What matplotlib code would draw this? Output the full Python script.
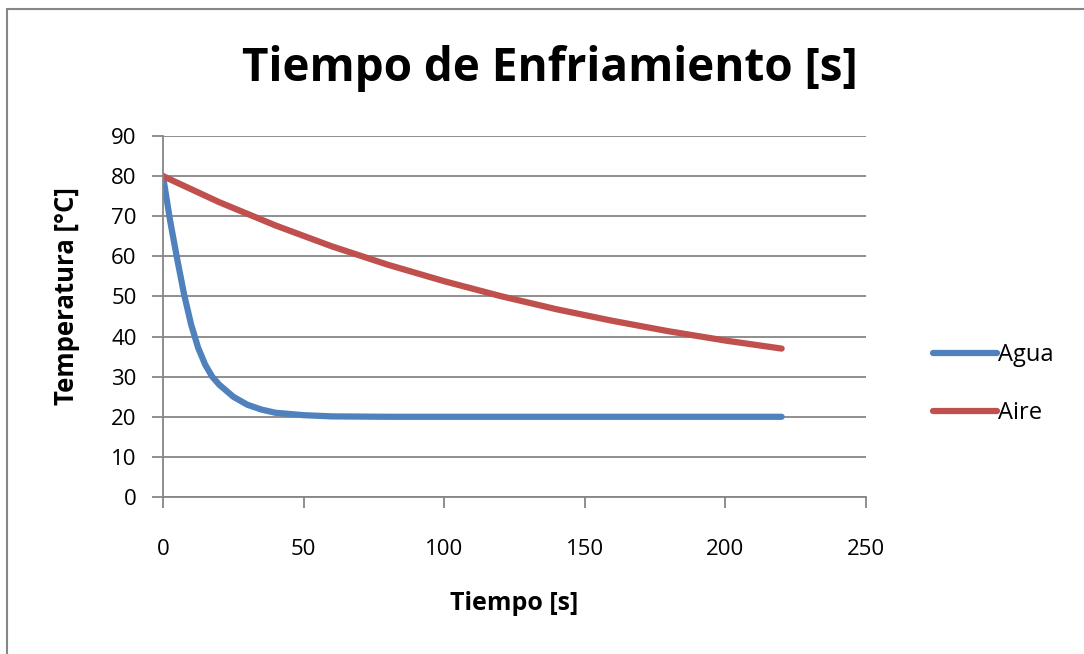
import matplotlib.pyplot as plt
from matplotlib.patches import Rectangle

# tiempo [s] y temperatura [°C]
t_agua = [0, 2.5, 5, 7.5, 10, 12.5, 15, 17.5, 20, 25, 30, 35, 40, 50, 60, 80, 100, 150, 220]
temp_agua = [80, 69, 59.5, 50.5, 43, 37.2, 33, 30, 28, 25, 23, 21.8, 21, 20.4, 20.1, 20, 20, 20, 20]

t_aire = [0, 20, 40, 60, 80, 100, 120, 140, 160, 180, 200, 220]
temp_aire = [80, 73.5, 67.7, 62.5, 57.9, 53.8, 50.1, 46.8, 43.9, 41.3, 39.0, 37.0]

x_ticks = [0, 50, 100, 150, 200, 250]
y_ticks = [0, 10, 20, 30, 40, 50, 60, 70, 80, 90]

plt.rcParams['font.family'] = ['Open Sans', 'DejaVu Sans']

W, H = 1084, 654
fig = plt.figure(figsize=(W / 100, H / 100), dpi=100)
ax = fig.add_axes([163 / W, 1 - 497 / H, (866 - 163) / W, (497 - 136) / H])

ax.plot(t_agua, temp_agua, color='#4F81BD', linewidth=4.5, label='Agua',
        solid_capstyle='round', solid_joinstyle='round')
ax.plot(t_aire, temp_aire, color='#C0504D', linewidth=4.5, label='Aire',
        solid_capstyle='round', solid_joinstyle='round')

ax.set_xlim(0, 250)
ax.set_ylim(0, 90)
ax.set_xticks(x_ticks)
ax.set_yticks(y_ticks)
ax.grid(axis='y', color='#868686', linewidth=1.3)
ax.set_axisbelow(True)
for s in ['top', 'right']:
    ax.spines[s].set_visible(False)
for s in ['left', 'bottom']:
    ax.spines[s].set_color('#868686')
    ax.spines[s].set_linewidth(1.3)
ax.tick_params(axis='both', colors='#868686', length=8, width=1.3, labelcolor='black', labelsize=16)
ax.tick_params(axis='x', pad=22)
ax.tick_params(axis='y', pad=11)

fig.text(550 / W, 1 - 68 / H, 'Tiempo de Enfriamiento [s]', fontsize=33, fontweight='bold',
         ha='center', va='center')
fig.text(514 / W, 1 - 604 / H, 'Tiempo [s]', fontsize=18, fontweight='bold',
         ha='center', va='center')
fig.text(67 / W, 1 - 296 / H, 'Temperatura [°C]', fontsize=18.5, fontweight='bold',
         ha='center', va='center', rotation=90)

ax.legend(loc='center left', bbox_to_anchor=(912 / W, 1 - 384 / H), bbox_transform=fig.transFigure,
          frameon=False, fontsize=17, handlelength=2.7, handletextpad=0.05, labelspacing=1.45)

fig.patches.append(Rectangle((7 / W, -0.1), 1.2, 1.1 - 9 / H, transform=fig.transFigure,
                             fill=False, edgecolor='#868686', linewidth=1.5))

fig.savefig('out.png', dpi=100)
